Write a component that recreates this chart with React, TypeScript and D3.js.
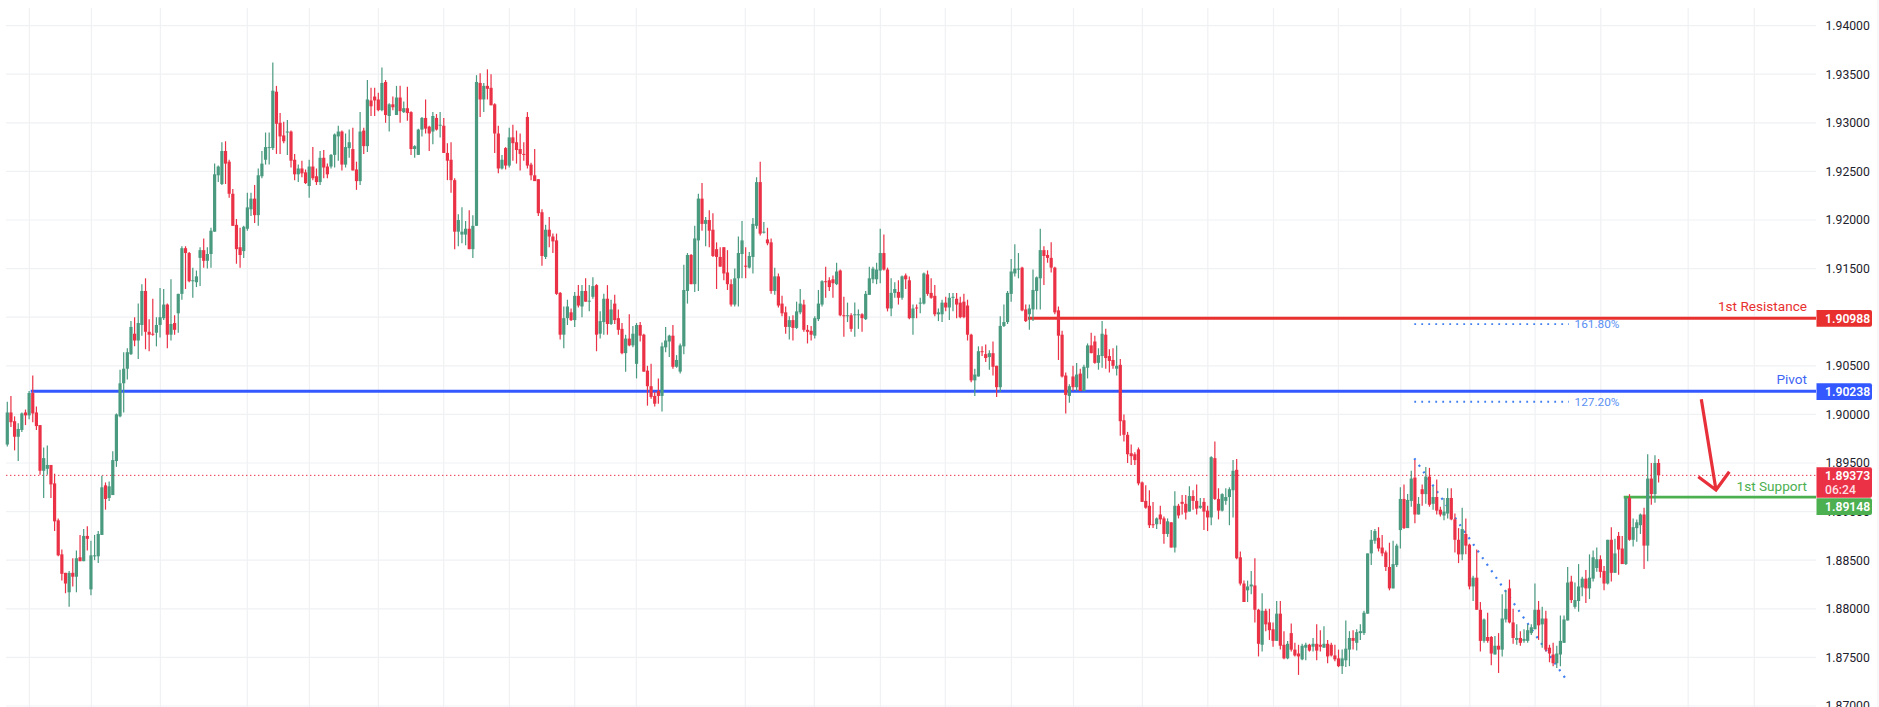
import React from "react";
import * as d3 from "d3";

const W = 1879, H = 707;

const OPEN = [
1.8969,1.9002,1.8993,1.8977,1.8984,1.9002,1.8999,1.9022,1.9002,1.8989,
1.8942,1.8944,1.8948,1.8929,1.8891,1.8856,1.8837,1.8817,1.8837,1.8833,
1.8853,1.8849,1.8875,1.8820,1.8855,1.8854,1.8876,1.8927,1.8914,1.8917,
1.8952,1.8998,1.9032,1.9047,1.9062,1.9083,1.9076,1.9092,1.9127,1.9085,
1.9083,1.9084,1.9092,1.9099,1.9113,1.9082,1.9094,1.9104,1.9124,1.9171,
1.9166,1.9137,1.9136,1.9161,1.9169,1.9158,1.9165,1.9188,1.9246,1.9237,
1.9271,1.9260,1.9227,1.9195,1.9172,1.9168,1.9191,1.9211,1.9222,1.9205,
1.9245,1.9262,1.9274,1.9274,1.9332,1.9300,1.9287,1.9290,1.9291,1.9262,
1.9247,1.9253,1.9249,1.9235,1.9255,1.9245,1.9239,1.9264,1.9255,1.9255,
1.9267,1.9286,1.9291,1.9257,1.9274,1.9273,1.9252,1.9240,1.9292,1.9276,
1.9323,1.9327,1.9324,1.9313,1.9342,1.9307,1.9319,1.9308,1.9326,1.9311,
1.9315,1.9311,1.9273,1.9267,1.9293,1.9305,1.9296,1.9291,1.9305,1.9297,
1.9297,1.9269,1.9262,1.9241,1.9188,1.9185,1.9185,1.9191,1.9170,1.9194,
1.9341,1.9324,1.9338,1.9336,1.9319,1.9289,1.9253,1.9274,1.9256,1.9285,
1.9280,1.9273,1.9268,1.9306,1.9257,1.9246,1.9242,1.9208,1.9162,1.9190,
1.9183,1.9179,1.9125,1.9082,1.9099,1.9105,1.9097,1.9122,1.9111,1.9127,
1.9117,1.9121,1.9133,1.9083,1.9095,1.9119,1.9093,1.9114,1.9099,1.9088,
1.9063,1.9078,1.9071,1.9052,1.9092,1.9082,1.9045,1.9029,1.9019,1.9024,
1.9019,1.9069,1.9075,1.9081,1.9049,1.9044,1.9070,1.9127,1.9164,1.9134,
1.9179,1.9222,1.9196,1.9200,1.9190,1.9170,1.9162,1.9172,1.9146,1.9134,
1.9113,1.9140,1.9165,1.9153,1.9151,1.9162,1.9194,1.9239,1.9187,1.9180,
1.9177,1.9127,1.9142,1.9114,1.9105,1.9090,1.9097,1.9089,1.9105,1.9113,
1.9087,1.9086,1.9081,1.9098,1.9113,1.9137,1.9138,1.9139,1.9134,1.9148,
1.9102,1.9101,1.9102,1.9102,1.9102,1.9103,1.9098,1.9123,1.9139,1.9139,
1.9148,1.9166,1.9149,1.9109,1.9125,1.9126,1.9120,1.9143,1.9138,1.9099,
1.9110,1.9114,1.9114,1.9144,1.9125,1.9122,1.9103,1.9103,1.9115,1.9110,
1.9120,1.9119,1.9115,1.9116,1.9112,1.9082,1.9035,1.9039,1.9065,1.9062,
1.9059,1.9063,1.9050,1.9028,1.9091,1.9095,1.9124,1.9145,1.9149,1.9151,
1.9108,1.9103,1.9108,1.9127,1.9140,1.9169,1.9164,1.9161,1.9151,1.9107,
1.9082,1.9040,1.9019,1.9039,1.9028,1.9042,1.9024,1.9048,1.9071,1.9075,
1.9053,1.9060,1.9082,1.9060,1.9056,1.9047,1.9051,1.8994,1.8979,1.8960,
1.8959,1.8964,1.8930,1.8911,1.8906,1.8887,1.8887,1.8897,1.8893,1.8877,
1.8889,1.8863,1.8906,1.8910,1.8908,1.8900,1.8916,1.8911,1.8904,1.8910,
1.8901,1.8894,1.8955,1.8913,1.8901,1.8911,1.8915,1.8922,1.8943,1.8853,
1.8826,1.8819,1.8823,1.8824,1.8799,1.8763,1.8798,1.8786,1.8779,1.8767,
1.8795,1.8763,1.8749,1.8775,1.8758,1.8754,1.8748,1.8760,1.8763,1.8761,
1.8764,1.8763,1.8760,1.8764,1.8763,1.8752,1.8749,1.8741,1.8747,1.8758,
1.8770,1.8765,1.8775,1.8775,1.8795,1.8857,1.8870,1.8873,1.8863,1.8858,
1.8843,1.8821,1.8845,1.8881,1.8913,1.8883,1.8911,1.8935,1.8897,1.8923,
1.8918,1.8936,1.8908,1.8915,1.8902,1.8896,1.8898,1.8914,1.8892,1.8871,
1.8856,1.8877,1.8866,1.8823,1.8832,1.8799,1.8767,1.8771,1.8771,1.8753,
1.8762,1.8758,1.8789,1.8821,1.8786,1.8768,1.8770,1.8767,1.8767,1.8775,
1.8779,1.8799,1.8784,1.8790,1.8760,1.8753,1.8744,1.8753,1.8765,1.8788,
1.8828,1.8802,1.8808,1.8822,1.8831,1.8821,1.8831,1.8842,1.8851,1.8839,
1.8826,1.8871,1.8837,1.8875,1.8862,1.8846,1.8914,1.8871,1.8883,1.8886,
1.8897,1.8865,1.8934,1.8918,1.8950];

const CLOSE = [
1.9002,1.8992,1.8977,1.8985,1.9001,1.8999,1.9022,1.9001,1.8988,1.8942,
1.8955,1.8948,1.8928,1.8890,1.8855,1.8836,1.8826,1.8837,1.8833,1.8852,
1.8849,1.8875,1.8872,1.8855,1.8855,1.8877,1.8925,1.8913,1.8926,1.8953,
1.9000,1.9032,1.9047,1.9064,1.9090,1.9076,1.9094,1.9127,1.9085,1.9082,
1.9082,1.9092,1.9100,1.9113,1.9082,1.9093,1.9087,1.9124,1.9171,1.9166,
1.9137,1.9138,1.9142,1.9169,1.9158,1.9165,1.9189,1.9247,1.9255,1.9271,
1.9258,1.9227,1.9194,1.9170,1.9164,1.9193,1.9213,1.9222,1.9205,1.9246,
1.9258,1.9275,1.9275,1.9333,1.9299,1.9286,1.9281,1.9291,1.9261,1.9247,
1.9253,1.9248,1.9238,1.9255,1.9243,1.9239,1.9264,1.9254,1.9247,1.9267,
1.9288,1.9291,1.9257,1.9275,1.9280,1.9251,1.9240,1.9291,1.9276,1.9324,
1.9317,1.9323,1.9313,1.9341,1.9308,1.9319,1.9316,1.9326,1.9312,1.9315,
1.9310,1.9273,1.9276,1.9293,1.9305,1.9294,1.9289,1.9307,1.9293,1.9298,
1.9269,1.9261,1.9241,1.9188,1.9200,1.9188,1.9191,1.9170,1.9194,1.9342,
1.9324,1.9338,1.9335,1.9318,1.9289,1.9253,1.9262,1.9256,1.9285,1.9279,
1.9272,1.9268,1.9267,1.9256,1.9246,1.9240,1.9207,1.9163,1.9190,1.9183,
1.9178,1.9124,1.9082,1.9099,1.9111,1.9097,1.9122,1.9112,1.9127,1.9116,
1.9117,1.9132,1.9082,1.9096,1.9119,1.9093,1.9108,1.9097,1.9087,1.9063,
1.9078,1.9071,1.9083,1.9092,1.9081,1.9044,1.9029,1.9018,1.9011,1.9019,
1.9070,1.9076,1.9081,1.9049,1.9056,1.9071,1.9128,1.9164,1.9134,1.9181,
1.9222,1.9196,1.9200,1.9189,1.9163,1.9162,1.9152,1.9145,1.9134,1.9113,
1.9140,1.9166,1.9179,1.9152,1.9163,1.9196,1.9239,1.9186,1.9188,1.9176,
1.9127,1.9142,1.9112,1.9104,1.9090,1.9097,1.9089,1.9106,1.9114,1.9087,
1.9085,1.9082,1.9099,1.9114,1.9137,1.9136,1.9131,1.9135,1.9147,1.9102,
1.9101,1.9102,1.9088,1.9103,1.9103,1.9099,1.9124,1.9140,1.9150,1.9149,
1.9166,1.9149,1.9109,1.9125,1.9129,1.9120,1.9142,1.9139,1.9099,1.9109,
1.9109,1.9115,1.9145,1.9124,1.9120,1.9103,1.9105,1.9115,1.9110,1.9120,
1.9121,1.9113,1.9100,1.9100,1.9082,1.9035,1.9041,1.9065,1.9064,1.9058,
1.9063,1.9049,1.9028,1.9091,1.9095,1.9125,1.9147,1.9150,1.9150,1.9107,
1.9096,1.9109,1.9128,1.9141,1.9169,1.9163,1.9161,1.9151,1.9105,1.9081,
1.9039,1.9020,1.9029,1.9028,1.9041,1.9024,1.9049,1.9071,1.9063,1.9053,
1.9061,1.9083,1.9058,1.9055,1.9050,1.9050,1.8993,1.8979,1.8959,1.8957,
1.8953,1.8929,1.8910,1.8904,1.8886,1.8886,1.8893,1.8892,1.8877,1.8890,
1.8863,1.8906,1.8896,1.8908,1.8899,1.8916,1.8911,1.8903,1.8906,1.8900,
1.8894,1.8956,1.8913,1.8901,1.8918,1.8915,1.8923,1.8942,1.8852,1.8826,
1.8807,1.8823,1.8825,1.8799,1.8764,1.8798,1.8784,1.8778,1.8767,1.8795,
1.8762,1.8749,1.8764,1.8758,1.8752,1.8751,1.8762,1.8763,1.8757,1.8764,
1.8757,1.8761,1.8764,1.8751,1.8752,1.8748,1.8741,1.8749,1.8759,1.8770,
1.8767,1.8776,1.8777,1.8796,1.8857,1.8871,1.8880,1.8862,1.8857,1.8843,
1.8821,1.8846,1.8865,1.8913,1.8883,1.8912,1.8934,1.8897,1.8908,1.8918,
1.8936,1.8907,1.8915,1.8901,1.8897,1.8900,1.8914,1.8892,1.8871,1.8856,
1.8882,1.8865,1.8823,1.8832,1.8799,1.8767,1.8789,1.8767,1.8754,1.8762,
1.8758,1.8790,1.8800,1.8786,1.8770,1.8770,1.8765,1.8769,1.8778,1.8781,
1.8799,1.8783,1.8790,1.8758,1.8754,1.8744,1.8754,1.8767,1.8789,1.8827,
1.8809,1.8809,1.8823,1.8831,1.8821,1.8832,1.8853,1.8851,1.8838,1.8826,
1.8871,1.8837,1.8857,1.8861,1.8846,1.8914,1.8871,1.8884,1.8889,1.8897,
1.8865,1.8934,1.8918,1.8950,1.89373];

const HIGH = [
1.9013,1.9019,1.8998,1.8991,1.9002,1.9005,1.9024,1.9040,1.9008,1.8989,
1.8966,1.8968,1.8948,1.8939,1.8893,1.8861,1.8837,1.8839,1.8852,1.8860,
1.8876,1.8882,1.8885,1.8870,1.8876,1.8880,1.8937,1.8930,1.8931,1.8962,
1.9001,1.9046,1.9064,1.9068,1.9096,1.9100,1.9114,1.9134,1.9140,1.9098,
1.9119,1.9100,1.9130,1.9129,1.9114,1.9139,1.9102,1.9124,1.9173,1.9173,
1.9167,1.9151,1.9148,1.9172,1.9181,1.9172,1.9192,1.9258,1.9256,1.9280,
1.9281,1.9262,1.9232,1.9201,1.9192,1.9194,1.9228,1.9228,1.9236,1.9253,
1.9271,1.9290,1.9290,1.9362,1.9338,1.9310,1.9301,1.9303,1.9292,1.9268,
1.9257,1.9261,1.9252,1.9262,1.9275,1.9253,1.9271,1.9272,1.9258,1.9268,
1.9289,1.9297,1.9292,1.9289,1.9293,1.9295,1.9260,1.9311,1.9295,1.9344,
1.9336,1.9336,1.9331,1.9357,1.9344,1.9320,1.9327,1.9338,1.9338,1.9322,
1.9337,1.9312,1.9277,1.9294,1.9306,1.9324,1.9297,1.9311,1.9309,1.9311,
1.9305,1.9279,1.9280,1.9243,1.9206,1.9213,1.9199,1.9210,1.9205,1.9349,
1.9351,1.9341,1.9355,1.9350,1.9320,1.9297,1.9267,1.9275,1.9295,1.9298,
1.9292,1.9289,1.9280,1.9311,1.9259,1.9273,1.9242,1.9211,1.9195,1.9203,
1.9186,1.9186,1.9126,1.9111,1.9118,1.9109,1.9126,1.9133,1.9133,1.9140,
1.9133,1.9141,1.9134,1.9106,1.9124,1.9133,1.9118,1.9123,1.9108,1.9094,
1.9082,1.9103,1.9091,1.9094,1.9095,1.9083,1.9050,1.9052,1.9023,1.9037,
1.9074,1.9090,1.9082,1.9092,1.9061,1.9073,1.9154,1.9166,1.9165,1.9194,
1.9227,1.9238,1.9203,1.9210,1.9207,1.9177,1.9172,1.9172,1.9169,1.9139,
1.9150,1.9183,1.9199,1.9172,1.9167,1.9202,1.9244,1.9260,1.9198,1.9192,
1.9181,1.9151,1.9145,1.9122,1.9111,1.9101,1.9102,1.9116,1.9129,1.9118,
1.9092,1.9091,1.9101,1.9128,1.9138,1.9152,1.9141,1.9143,1.9156,1.9149,
1.9121,1.9115,1.9104,1.9115,1.9108,1.9104,1.9127,1.9152,1.9152,1.9156,
1.9191,1.9185,1.9151,1.9140,1.9136,1.9138,1.9143,1.9145,1.9142,1.9113,
1.9113,1.9120,1.9146,1.9148,1.9140,1.9133,1.9109,1.9118,1.9121,1.9125,
1.9125,1.9125,1.9121,1.9124,1.9118,1.9083,1.9047,1.9070,1.9070,1.9072,
1.9066,1.9075,1.9050,1.9101,1.9113,1.9127,1.9160,1.9175,1.9166,1.9152,
1.9113,1.9113,1.9149,1.9142,1.9191,1.9173,1.9169,1.9177,1.9152,1.9111,
1.9086,1.9043,1.9031,1.9050,1.9053,1.9047,1.9051,1.9073,1.9084,1.9081,
1.9068,1.9096,1.9088,1.9067,1.9068,1.9071,1.9057,1.9000,1.8982,1.8969,
1.8961,1.8966,1.8931,1.8927,1.8922,1.8910,1.8894,1.8906,1.8895,1.8893,
1.8889,1.8921,1.8908,1.8917,1.8917,1.8926,1.8922,1.8928,1.8914,1.8914,
1.8906,1.8957,1.8972,1.8924,1.8919,1.8924,1.8925,1.8953,1.8954,1.8859,
1.8829,1.8829,1.8839,1.8852,1.8800,1.8816,1.8800,1.8800,1.8786,1.8808,
1.8808,1.8777,1.8767,1.8785,1.8765,1.8763,1.8764,1.8765,1.8764,1.8770,
1.8784,1.8778,1.8782,1.8768,1.8765,1.8763,1.8758,1.8758,1.8788,1.8777,
1.8778,1.8779,1.8784,1.8798,1.8857,1.8881,1.8882,1.8884,1.8876,1.8860,
1.8868,1.8870,1.8867,1.8925,1.8928,1.8918,1.8942,1.8953,1.8915,1.8928,
1.8946,1.8945,1.8926,1.8933,1.8905,1.8914,1.8924,1.8924,1.8898,1.8883,
1.8904,1.8893,1.8867,1.8834,1.8861,1.8807,1.8790,1.8796,1.8772,1.8772,
1.8775,1.8815,1.8819,1.8830,1.8800,1.8784,1.8777,1.8779,1.8784,1.8784,
1.8826,1.8808,1.8802,1.8798,1.8763,1.8765,1.8762,1.8793,1.8793,1.8843,
1.8834,1.8827,1.8846,1.8833,1.8840,1.8856,1.8860,1.8863,1.8855,1.8844,
1.8871,1.8884,1.8872,1.8879,1.8875,1.8915,1.8918,1.8893,1.8892,1.8898,
1.8904,1.8959,1.8950,1.8958,1.8954];

const LOW = [
1.8967,1.8987,1.8963,1.8952,1.8982,1.8989,1.8995,1.8992,1.8984,1.8938,
1.8914,1.8938,1.8914,1.8880,1.8854,1.8829,1.8816,1.8802,1.8823,1.8817,
1.8849,1.8849,1.8860,1.8814,1.8850,1.8847,1.8876,1.8902,1.8911,1.8917,
1.8946,1.8997,1.9002,1.9036,1.9061,1.9070,1.9057,1.9081,1.9067,1.9065,
1.9081,1.9070,1.9079,1.9097,1.9068,1.9076,1.9082,1.9084,1.9118,1.9129,
1.9136,1.9120,1.9131,1.9132,1.9151,1.9150,1.9151,1.9188,1.9239,1.9236,
1.9237,1.9223,1.9194,1.9155,1.9151,1.9161,1.9189,1.9204,1.9197,1.9194,
1.9243,1.9257,1.9257,1.9272,1.9268,1.9268,1.9279,1.9267,1.9254,1.9241,
1.9239,1.9244,1.9237,1.9223,1.9241,1.9236,1.9236,1.9243,1.9243,1.9253,
1.9254,1.9261,1.9251,1.9254,1.9264,1.9251,1.9231,1.9236,1.9268,1.9270,
1.9307,1.9307,1.9312,1.9312,1.9300,1.9291,1.9313,1.9308,1.9300,1.9310,
1.9302,1.9267,1.9264,1.9267,1.9286,1.9289,1.9271,1.9278,1.9292,1.9285,
1.9269,1.9241,1.9228,1.9170,1.9173,1.9176,1.9174,1.9170,1.9161,1.9194,
1.9306,1.9311,1.9324,1.9318,1.9269,1.9248,1.9252,1.9252,1.9254,1.9261,
1.9258,1.9251,1.9261,1.9253,1.9241,1.9240,1.9204,1.9153,1.9160,1.9172,
1.9166,1.9123,1.9077,1.9068,1.9092,1.9096,1.9090,1.9110,1.9100,1.9116,
1.9106,1.9119,1.9065,1.9078,1.9082,1.9082,1.9092,1.9093,1.9082,1.9062,
1.9044,1.9070,1.9069,1.9037,1.9075,1.9044,1.9009,1.9016,1.9008,1.9011,
1.9003,1.9064,1.9059,1.9047,1.9048,1.9042,1.9062,1.9114,1.9134,1.9126,
1.9127,1.9189,1.9173,1.9172,1.9162,1.9129,1.9152,1.9138,1.9128,1.9111,
1.9111,1.9111,1.9140,1.9140,1.9150,1.9145,1.9191,1.9184,1.9186,1.9174,
1.9124,1.9123,1.9110,1.9101,1.9083,1.9077,1.9076,1.9088,1.9103,1.9085,
1.9073,1.9076,1.9078,1.9096,1.9111,1.9120,1.9127,1.9120,1.9133,1.9101,
1.9080,1.9095,1.9085,1.9080,1.9088,1.9085,1.9097,1.9123,1.9135,1.9134,
1.9135,1.9148,1.9106,1.9101,1.9120,1.9113,1.9118,1.9129,1.9098,1.9082,
1.9099,1.9104,1.9113,1.9122,1.9119,1.9101,1.9096,1.9095,1.9106,1.9097,
1.9106,1.9099,1.9099,1.9099,1.9076,1.9033,1.9019,1.9039,1.9060,1.9054,
1.9046,1.9040,1.9018,1.9023,1.9090,1.9093,1.9116,1.9142,1.9140,1.9106,
1.9095,1.9087,1.9096,1.9108,1.9108,1.9133,1.9156,1.9146,1.9103,1.9056,
1.9038,1.9001,1.9012,1.9024,1.9024,1.9024,1.9024,1.9037,1.9063,1.9052,
1.9046,1.9048,1.9047,1.9043,1.9047,1.9040,1.8978,1.8972,1.8950,1.8948,
1.8948,1.8927,1.8910,1.8903,1.8883,1.8883,1.8882,1.8887,1.8867,1.8874,
1.8863,1.8858,1.8893,1.8897,1.8892,1.8900,1.8902,1.8897,1.8903,1.8881,
1.8880,1.8886,1.8912,1.8892,1.8900,1.8907,1.8886,1.8894,1.8851,1.8824,
1.8807,1.8807,1.8815,1.8786,1.8751,1.8756,1.8777,1.8768,1.8761,1.8767,
1.8758,1.8748,1.8748,1.8756,1.8751,1.8732,1.8747,1.8747,1.8756,1.8756,
1.8747,1.8756,1.8760,1.8744,1.8751,1.8746,1.8740,1.8733,1.8740,1.8741,
1.8758,1.8757,1.8768,1.8773,1.8795,1.8845,1.8867,1.8859,1.8854,1.8839,
1.8819,1.8821,1.8843,1.8862,1.8882,1.8883,1.8905,1.8888,1.8897,1.8906,
1.8908,1.8905,1.8902,1.8897,1.8895,1.8891,1.8893,1.8891,1.8858,1.8847,
1.8850,1.8856,1.8820,1.8808,1.8799,1.8756,1.8765,1.8765,1.8742,1.8753,
1.8734,1.8751,1.8786,1.8785,1.8764,1.8763,1.8762,1.8765,1.8765,1.8773,
1.8779,1.8768,1.8760,1.8756,1.8745,1.8741,1.8739,1.8741,1.8765,1.8788,
1.8806,1.8800,1.8797,1.8813,1.8806,1.8810,1.8828,1.8838,1.8832,1.8819,
1.8825,1.8828,1.8837,1.8835,1.8846,1.8845,1.8870,1.8864,1.8869,1.8877,
1.8841,1.8849,1.8907,1.8909,1.8930];

const TICK_PRICES = [1.94,1.935,1.93,1.925,1.92,1.915,1.91,1.905,1.9,1.895,1.89,1.885,1.88,1.875,1.87];
const TIME_GRID = [29.4,91.4,160.4,247.3,309.4,378.4,443.7,509.4,574.7,636.3,745.3,814.3,880.4,945.3,1011.4,1073.5,1142.4,1207.8,1273.5,1338.4,1400.8,1469.8,1535.1,1600.8,1688.2,1754.3];

const RESISTANCE = 1.90988, PIVOT = 1.90238, SUPPORT = 1.89148, LAST = 1.89373;
const FIB_A = 1.90928, FIB_B = 1.90130;
const DIAG_TOP = 1.89548, DIAG_BOT = 1.87285;
const TIMER = "06:24";

const RED = "#ea3146", GREEN = "#4a9a80", BLUE = "#3358ff", LRED = "#e8302f", LGREEN = "#4caf50", DOT = "#3f7ff0";
const FONT = "Roboto, sans-serif";
const PLOT_L = 6, PLOT_R = 1816, TOP = 8;

const x = d3.scaleLinear().domain([0, 454]).range([7.3, 1658.6]);
const y = d3.scaleLinear().domain([1.94, 1.875]).range([25.6, 657.4]);
const fmt = d3.format(".5f");

function PriceBox({ top, h, color, value, sub }: { top: number; h: number; color: string; value: string; sub?: string }) {
  return (
    <g>
      <path d={`M1816.5 ${top}H1870a2 2 0 0 1 2 2V${top + h - 2}a2 2 0 0 1 -2 2H1816.5Z`} fill={color} />
      <text x={1825} y={top + (sub ? 8.5 : h / 2)} dy="0.36em" fontFamily={FONT} fontSize={12.2} fontWeight={600} fill="#fff">{value}</text>
      {sub && <text x={1825} y={top + 22.5} dy="0.36em" fontFamily={FONT} fontSize={12.2} fontWeight={500} fill="#ffdfe3">{sub}</text>}
    </g>
  );
}

export default function App() {
  const candles = OPEN.map((o, i) => ({ i, o, c: CLOSE[i], h: HIGH[i], l: LOW[i] }));
  return (
    <svg width={W} height={H} viewBox={`0 0 ${W} ${H}`} style={{ position: "fixed", left: 0, top: 0, background: "#fff", display: "block" }}>
      <rect width={W} height={H} fill="#fff" />
      {TIME_GRID.map((g) => <line key={g} x1={g} x2={g} y1={TOP} y2={H} stroke="#f0f1f3" strokeWidth={1.2} />)}
      {TICK_PRICES.map((p) => <line key={p} x1={PLOT_L} x2={PLOT_R} y1={y(p)} y2={y(p)} stroke="#f0f1f3" strokeWidth={1.2} />)}
      <line x1={1878} x2={1878} y1={0} y2={H} stroke="#eeeff1" />

      {/* fibonacci dotted drawings */}
      <line x1={1414.3} x2={1569} y1={y(FIB_A)} y2={y(FIB_A)} stroke={DOT} strokeWidth={1.8} strokeDasharray="1.8 5.2" />
      <line x1={1414.3} x2={1569} y1={y(FIB_B)} y2={y(FIB_B)} stroke={DOT} strokeWidth={1.8} strokeDasharray="1.8 5.2" />
      <text x={1574.5} y={y(FIB_A)} dy="0.36em" fontFamily={FONT} fontSize={11.8} fill="#5a90f3">161.80%</text>
      <text x={1574.5} y={y(FIB_B)} dy="0.36em" fontFamily={FONT} fontSize={11.8} fill="#5a90f3">127.20%</text>
      <line x1={1414.3} x2={1565.3} y1={y(DIAG_TOP)} y2={y(DIAG_BOT)} stroke={DOT} strokeWidth={2.2} strokeDasharray="2 6" />

      {/* levels */}
      <line x1={30.7} x2={PLOT_R} y1={y(PIVOT)} y2={y(PIVOT)} stroke={BLUE} strokeWidth={3} />
      <line x1={1028} x2={PLOT_R} y1={y(RESISTANCE)} y2={y(RESISTANCE)} stroke={LRED} strokeWidth={3} />
      <line x1={1623.7} x2={PLOT_R} y1={y(SUPPORT)} y2={y(SUPPORT)} stroke={LGREEN} strokeWidth={2.8} />
      <line x1={PLOT_L} x2={PLOT_R} y1={y(LAST)} y2={y(LAST)} stroke={RED} strokeWidth={1} strokeDasharray="1.4 2.6" />

      {/* candles */}
      {candles.map((d) => {
        const col = d.c >= d.o ? GREEN : RED;
        const cx = x(d.i);
        const top = y(Math.max(d.o, d.c));
        const bot = y(Math.min(d.o, d.c));
        return (
          <g key={d.i}>
            <line x1={cx} x2={cx} y1={y(d.h)} y2={y(d.l)} stroke={col} strokeWidth={1.2} />
            <rect x={cx - 1.6} y={top} width={3.2} height={Math.max(bot - top, 1)} fill={col} />
          </g>
        );
      })}

      {/* level captions */}
      <text x={1807} y={306} dy="0.36em" textAnchor="end" fontFamily={FONT} fontSize={13.6} fill={LRED}>1st Resistance</text>
      <text x={1807} y={379} dy="0.36em" textAnchor="end" fontFamily={FONT} fontSize={13.6} fill="#3f66f5">Pivot</text>
      <text x={1807} y={485.7} dy="0.36em" textAnchor="end" fontFamily={FONT} fontSize={13.6} fill={LGREEN}>1st Support</text>

      {/* forecast arrow */}
      <path d="M1701.3 399.3L1716 490M1698.3 476.7L1716 490L1729.3 471.7" fill="none" stroke="#e8303a" strokeWidth={3.2} strokeLinejoin="miter" />

      {/* price axis */}
      {TICK_PRICES.map((p) => (
        <text key={p} x={1825.5} y={y(p)} dy="0.36em" fontFamily={FONT} fontSize={12.2} fill="#1e222d">{fmt(p)}</text>
      ))}
      <PriceBox top={310} h={16.8} color={LRED} value={fmt(RESISTANCE)} />
      <PriceBox top={383.2} h={16.8} color={BLUE} value={fmt(PIVOT)} />
      <PriceBox top={467.2} h={30.6} color={RED} value={fmt(LAST)} sub={TIMER} />
      <PriceBox top={498.3} h={16.8} color={LGREEN} value={fmt(SUPPORT)} />
    </svg>
  );
}
